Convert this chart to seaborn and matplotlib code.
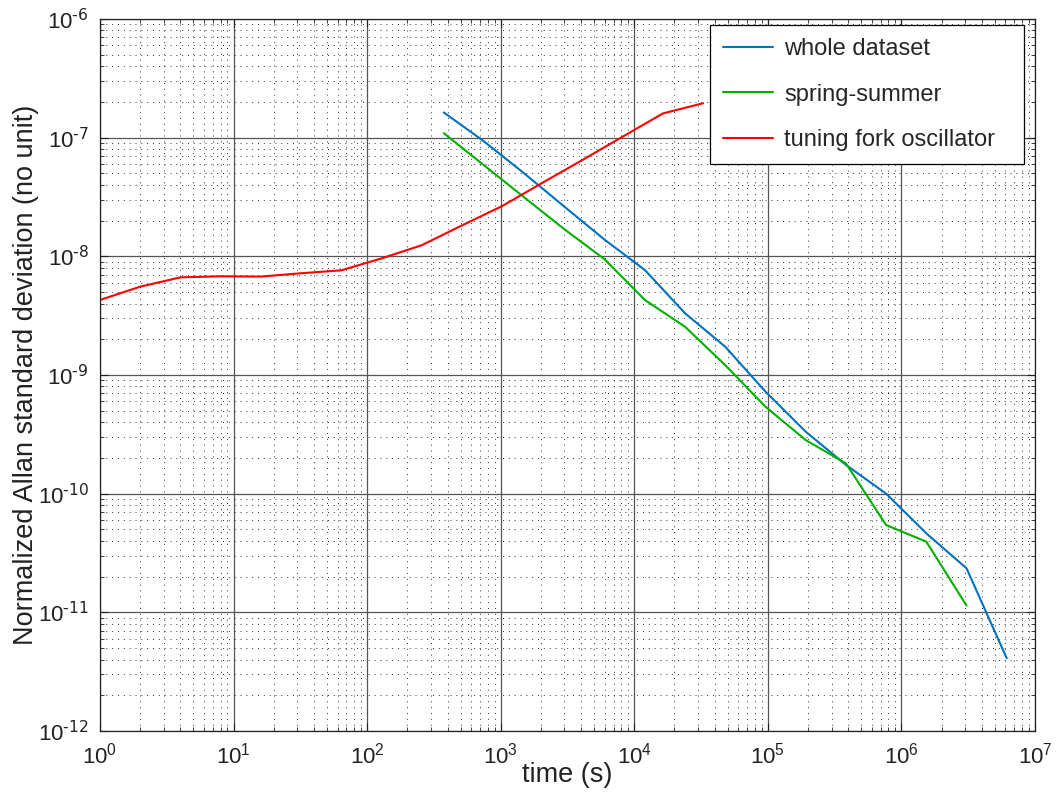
import matplotlib
matplotlib.use("Agg")
import matplotlib.pyplot as plt
import numpy as np
import pandas as pd
import seaborn as sns

# averaging times (s)
tau_fork = [1, 2, 4, 8, 16, 32, 64, 128, 256, 512, 1024, 2048, 4096, 8192, 16384, 32768]
tau_whole = [375, 750, 1500, 3000, 6000, 12000, 24000, 48000, 96000, 192000,
             384000, 768000, 1536000, 3072000, 6144000]
tau_spring = [375, 750, 1500, 3000, 6000, 12000, 24000, 48000, 96000, 192000,
              384000, 768000, 1536000, 3072000]

# normalized Allan deviation
adev_whole = [1.63e-7, 9.3e-8, 5.0e-8, 2.62e-8, 1.38e-8, 7.67e-9, 3.31e-9, 1.73e-9,
              7.24e-10, 3.33e-10, 1.75e-10, 1.0e-10, 4.63e-11, 2.35e-11, 4.1e-12]
adev_spring = [1.09e-7, 5.85e-8, 3.14e-8, 1.69e-8, 9.44e-9, 4.29e-9, 2.55e-9, 1.21e-9,
               5.4e-10, 2.83e-10, 1.8e-10, 5.44e-11, 3.94e-11, 1.14e-11]
adev_fork = [4.29e-9, 5.55e-9, 6.65e-9, 6.79e-9, 6.75e-9, 7.2e-9, 7.62e-9, 9.6e-9,
             1.24e-8, 1.82e-8, 2.65e-8, 4.16e-8, 6.49e-8, 1.02e-7, 1.6e-7, 1.95e-7]

labels = ["whole dataset", "spring-summer", "tuning fork oscillator"]
colors = ["#0072BD", "#00B000", "#FF0000"]

sns.set_style("white")
plt.rcParams["font.family"] = ["Liberation Sans", "DejaVu Sans"]
plt.rcParams["axes.unicode_minus"] = False


def pow10_label(v, pos):
    # plain hyphen in the exponent, like the original
    n = int(round(np.log10(v)))
    if n < 0:
        return r"$\mathdefault{10^{\text{-%d}}}$" % (-n)
    return r"$\mathdefault{10^{%d}}$" % n


fig, ax = plt.subplots(figsize=(10.57, 7.93), dpi=100)
fig.subplots_adjust(left=100 / 1057, right=1035 / 1057, top=1 - 19 / 793, bottom=1 - 731 / 793)

series = [(tau_whole, adev_whole), (tau_spring, adev_spring), (tau_fork, adev_fork)]
for (t, a), lab, c in zip(series, labels, colors):
    df = pd.DataFrame({"tau": t, "adev": a})
    sns.lineplot(data=df, x="tau", y="adev", ax=ax, color=c, linewidth=1.5, label=lab)

ax.set(xscale="log", yscale="log")
ax.set_xlim(1, 1e7)
ax.set_ylim(1e-12, 1e-6)
ticker = matplotlib.ticker
ax.xaxis.set_major_locator(ticker.LogLocator(base=10, numticks=20))
ax.yaxis.set_major_locator(ticker.LogLocator(base=10, numticks=20))
ax.xaxis.set_minor_locator(ticker.LogLocator(base=10, subs=np.arange(2, 10), numticks=100))
ax.yaxis.set_minor_locator(ticker.LogLocator(base=10, subs=np.arange(2, 10), numticks=100))
ax.xaxis.set_major_formatter(ticker.FuncFormatter(pow10_label))
ax.yaxis.set_major_formatter(ticker.FuncFormatter(pow10_label))
ax.xaxis.set_minor_formatter(ticker.NullFormatter())
ax.yaxis.set_minor_formatter(ticker.NullFormatter())

ax.grid(True, which="major", color="#555555", linewidth=0.9, linestyle="-")
ax.grid(True, which="minor", color="#333333", linewidth=0.7, linestyle=(0, (1, 5)))
ax.set_axisbelow(True)

ax.tick_params(which="both", direction="in", top=True, right=True, bottom=True, left=True,
               labelsize=16, colors="#222222")
ax.tick_params(which="major", length=6, width=0.8)
ax.tick_params(which="minor", length=3, width=0.6)
ax.tick_params(axis="x", which="major", pad=8)
ax.tick_params(axis="y", which="major", pad=8)
for s in ax.spines.values():
    s.set_color("#222222")
    s.set_linewidth(0.9)

ax.set_xlabel("time (s)", fontsize=19.5, color="#222222", labelpad=-4)
ax.set_ylabel("Normalized Allan standard deviation (no unit)", fontsize=19.5, color="#222222",
              labelpad=-1)

# legend box spans roughly x 710..1024 px, top at 25 px
leg = ax.legend(loc="upper left", bbox_to_anchor=(610 / 935, 0, 314 / 935, 1 - 6 / 712),
                mode="expand", borderaxespad=0,
                fontsize=17, handlelength=2.1, handletextpad=0.5, labelspacing=1.0,
                fancybox=False, framealpha=1, edgecolor="black", borderpad=0.55)
leg.get_frame().set_linewidth(0.9)

fig.savefig("out.png", dpi=100)
